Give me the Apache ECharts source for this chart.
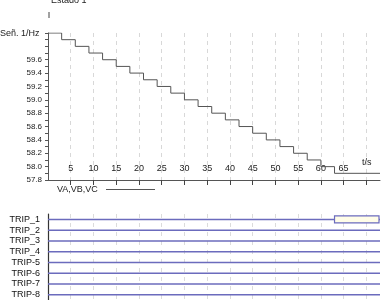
<!DOCTYPE html>
<html>
<head>
<meta charset="utf-8" />
<title>Estado 1</title>
<script type="text/javascript" src="https://cdn.jsdelivr.net/npm/echarts@6/dist/echarts.min.js"></script>
<style>
  html, body { margin: 0; padding: 0; background: #fff; }
  #main { width: 381px; height: 300px; }
</style>
</head>
<body>
<div id="main"></div>
<script>
// datos de la señal (tiempo en s, frecuencia en Hz)
var tiempos = [0, 3, 6, 9, 12, 15, 18, 21, 24, 27, 30, 33, 36, 39, 42, 45, 48, 51, 54, 57, 60, 63, 73];
var frecuencia = [60.0, 59.9, 59.8, 59.7, 59.6, 59.5, 59.4, 59.3, 59.2, 59.1, 59.0, 58.9, 58.8, 58.7, 58.6, 58.5, 58.4, 58.3, 58.2, 58.1, 58.0, 57.9, 57.9];
var marcasX = [5, 10, 15, 20, 25, 30, 35, 40, 45, 50, 55, 60, 65, 70];
var etiquetasX = [5, 10, 15, 20, 25, 30, 35, 40, 45, 50, 55, 60, 65];
var canales = ['TRIP_1', 'TRIP_2', 'TRIP_3', 'TRIP_4', 'TRIP-5', 'TRIP-6', 'TRIP-7', 'TRIP-8'];
// disparo activo: [inicio, fin, canal]
var disparos = [[63, 73, 'TRIP_1']];
var tMax = 73;

var chart = echarts.init(document.getElementById('main'));

var puntos = [];
for (var i = 0; i < tiempos.length; i++) {
  puntos.push([tiempos[i], frecuencia[i]]);
}

var series = [{
  name: 'VA,VB,VC',
  type: 'line',
  xAxisIndex: 0,
  yAxisIndex: 0,
  step: 'end',
  symbol: 'none',
  silent: true,
  lineStyle: { color: '#555', width: 1 },
  data: puntos
}];

// lineas de los canales digitales
canales.forEach(function (c) {
  series.push({
    type: 'line',
    xAxisIndex: 1,
    yAxisIndex: 1,
    symbol: 'none',
    silent: true,
    lineStyle: { color: '#6b6bbd', width: 1.5 },
    data: [[0, c], [tMax, c]]
  });
});

series.push({
  type: 'custom',
  xAxisIndex: 1,
  yAxisIndex: 1,
  silent: true,
  z: 5,
  renderItem: function (params, api) {
    var p0 = api.coord([api.value(0), api.value(2)]);
    var p1 = api.coord([api.value(1), api.value(2)]);
    return {
      type: 'rect',
      shape: { x: p0[0], y: p0[1] - 3.5, width: p1[0] - p0[0] - 1, height: 7 },
      style: { fill: '#fffde8', stroke: '#6b6bbd', lineWidth: 1.2 }
    };
  },
  encode: { x: [0, 1], y: 2 },
  data: disparos
});

var fuente = 'Liberation Sans, Arial, sans-serif';

chart.setOption({
  animation: false,
  textStyle: { fontFamily: fuente },
  grid: [
    { left: 48, top: 33, right: 1, height: 147 },
    { left: 48, top: 214, right: 1, height: 86 }
  ],
  xAxis: [{
    gridIndex: 0,
    type: 'value',
    min: 0,
    max: tMax,
    axisLine: { lineStyle: { color: '#555', width: 1 } },
    axisTick: { customValues: marcasX, length: 5, lineStyle: { color: '#444' } },
    axisLabel: { customValues: etiquetasX, inside: true, margin: 7, fontSize: 9, color: '#222', fontFamily: fuente },
    splitLine: { show: true, lineStyle: { color: '#d8d8d8', type: [4, 4], width: 1 } }
  }, {
    gridIndex: 1,
    type: 'value',
    min: 0,
    max: tMax,
    axisLine: { show: false },
    axisTick: { show: false, customValues: marcasX },
    axisLabel: { show: false },
    splitLine: { show: true, lineStyle: { color: '#dcdcdc', type: [4, 5], width: 1 } }
  }],
  yAxis: [{
    gridIndex: 0,
    type: 'value',
    min: 57.8,
    max: 60.0,
    interval: 0.2,
    axisLine: { show: true, lineStyle: { color: '#555', width: 1 } },
    axisTick: { show: true, length: 3, lineStyle: { color: '#555' } },
    minorTick: { show: true, splitNumber: 2, length: 3, lineStyle: { color: '#555' } },
    axisLabel: {
      fontSize: 8,
      color: '#222',
      margin: 6,
      fontFamily: fuente,
      formatter: function (v) { return v > 59.7 ? '' : v.toFixed(1); }
    },
    splitLine: { show: false }
  }, {
    gridIndex: 1,
    type: 'category',
    inverse: true,
    data: canales,
    axisLine: { show: true, lineStyle: { color: '#333', width: 1.2 } },
    axisTick: { show: false },
    axisLabel: { interval: 0, fontSize: 9, color: '#111', margin: 8, fontFamily: fuente },
    splitLine: { show: false }
  }],
  graphic: [
    { type: 'text', left: 51, top: -4, style: { text: 'Estado 1', fontSize: 9, fill: '#222', fontFamily: fuente } },
    { type: 'line', shape: { x1: 49, y1: 12, x2: 49, y2: 18 }, style: { stroke: '#444', lineWidth: 1 } },
    { type: 'text', left: 0, top: 29, style: { text: 'Señ. 1/Hz', fontSize: 9, fill: '#222', fontFamily: fuente } },
    { type: 'text', left: 362, top: 158, style: { text: 't/s', fontSize: 9, fill: '#222', fontFamily: fuente } },
    { type: 'text', left: 57, top: 185, style: { text: 'VA,VB,VC', fontSize: 9, fill: '#222', fontFamily: fuente } },
    { type: 'line', shape: { x1: 106, y1: 189.5, x2: 155, y2: 189.5 }, style: { stroke: '#555', lineWidth: 1 } }
  ],
  series: series
});
</script>
</body>
</html>
